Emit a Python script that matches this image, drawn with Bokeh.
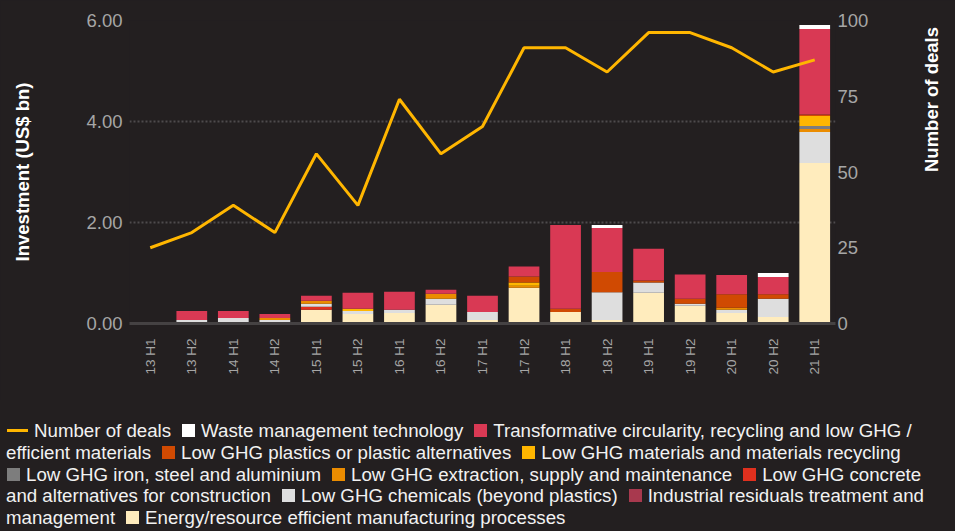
import math
from bokeh.plotting import figure
from bokeh.models import (ColumnDataSource, Range1d, LinearAxis, FixedTicker,
                          NumeralTickFormatter, Div)
from bokeh.layouts import column
from bokeh.embed import file_html
from bokeh.resources import INLINE

# ---------------- data ----------------
periods = ["13 H1", "13 H2", "14 H1", "14 H2", "15 H1", "15 H2", "16 H1", "16 H2",
           "17 H1", "17 H2", "18 H1", "18 H2", "19 H1", "19 H2", "20 H1", "20 H2", "21 H1"]

energy =      [0.00, 0.02, 0.03, 0.00, 0.27, 0.19, 0.21, 0.37, 0.07, 0.71, 0.23, 0.07, 0.61, 0.35, 0.21, 0.13, 3.18]
industrial =  [0.00, 0.00, 0.00, 0.03, 0.00, 0.00, 0.00, 0.00, 0.00, 0.00, 0.00, 0.00, 0.00, 0.00, 0.00, 0.00, 0.00]
concrete =    [0.00, 0.00, 0.00, 0.00, 0.06, 0.00, 0.00, 0.00, 0.00, 0.00, 0.00, 0.00, 0.00, 0.00, 0.00, 0.00, 0.00]
chemicals =   [0.00, 0.05, 0.08, 0.04, 0.06, 0.06, 0.06, 0.12, 0.16, 0.00, 0.00, 0.55, 0.20, 0.04, 0.06, 0.36, 0.61]
extraction =  [0.00, 0.00, 0.00, 0.04, 0.06, 0.00, 0.00, 0.10, 0.00, 0.04, 0.00, 0.00, 0.00, 0.00, 0.04, 0.00, 0.06]
iron =        [0.00, 0.00, 0.00, 0.00, 0.00, 0.00, 0.00, 0.00, 0.00, 0.00, 0.00, 0.00, 0.00, 0.00, 0.00, 0.00, 0.06]
materials =   [0.00, 0.00, 0.00, 0.00, 0.00, 0.04, 0.00, 0.00, 0.00, 0.06, 0.00, 0.00, 0.00, 0.00, 0.00, 0.00, 0.20]
plastics =    [0.00, 0.00, 0.00, 0.00, 0.00, 0.00, 0.00, 0.00, 0.00, 0.12, 0.06, 0.40, 0.04, 0.10, 0.27, 0.09, 0.03]
transform =   [0.03, 0.18, 0.14, 0.08, 0.10, 0.32, 0.36, 0.08, 0.32, 0.20, 1.66, 0.87, 0.63, 0.48, 0.38, 0.34, 1.69]
waste =       [0.00, 0.00, 0.00, 0.00, 0.00, 0.00, 0.00, 0.00, 0.00, 0.00, 0.00, 0.06, 0.00, 0.00, 0.00, 0.08, 0.08]

deals = [25, 30, 39, 30, 56, 39, 74, 56, 65, 91, 91, 83, 96, 96, 91, 83, 87]

left_ticks = [0, 2, 4, 6]
right_ticks = [0, 25, 50, 75, 100]

# stacking order (bottom -> top)
stack_keys = ["energy", "industrial", "concrete", "chemicals", "extraction",
              "iron", "materials", "plastics", "transform", "waste"]
stack_colors = ["#FFECBD", "#A8394E", "#E0301E", "#DEDEDE", "#EB8C00",
                "#7D7D7D", "#FFB600", "#D04A02", "#D93954", "#FFFFFF"]

BG = "#231F20"
FONT = "Liberation Sans"

source = ColumnDataSource(data=dict(
    period=periods, energy=energy, industrial=industrial, concrete=concrete,
    chemicals=chemicals, extraction=extraction, iron=iron, materials=materials,
    plastics=plastics, transform=transform, waste=waste, deals=deals))

W = 955
p = figure(x_range=periods, y_range=Range1d(0, 6), width=W, height=400,
           output_backend="svg", toolbar_location=None,
           min_border_left=129, min_border_right=117, min_border_top=20,
           min_border_bottom=77, background_fill_color=BG, border_fill_color=BG,
           outline_line_color=None)
p.extra_y_ranges = {"deals": Range1d(0, 100)}

p.vbar_stack(stack_keys, x="period", width=0.74, fill_color=stack_colors,
             line_color=None, source=source)
p.line(x="period", y="deals", source=source, y_range_name="deals",
       line_color="#FFB600", line_width=3)

# grid
p.xgrid.grid_line_color = None
p.ygrid.ticker = FixedTicker(ticks=left_ticks)
p.ygrid.grid_line_color = "#4E4B4C"
p.ygrid.grid_line_width = 2
p.ygrid.grid_line_dash = "2 2"

# x axis
xa = p.xaxis[0]
xa.axis_line_color = "#454243"
xa.axis_line_width = 3
xa.major_tick_line_color = None
xa.minor_tick_line_color = None
xa.major_tick_out = 0
xa.major_tick_in = 0
xa.major_label_orientation = math.pi / 2
xa.major_label_standoff = 15
xa.major_label_text_font = FONT
xa.major_label_text_font_size = "13.5px"
xa.major_label_text_color = "#A6A6A6"

# left axis
ya = p.yaxis[0]
ya.ticker = FixedTicker(ticks=left_ticks)
ya.formatter = NumeralTickFormatter(format="0.00")
ya.axis_line_color = None
ya.major_tick_line_color = None
ya.minor_tick_line_color = None
ya.major_tick_out = 0
ya.major_tick_in = 0
ya.major_label_standoff = 7
ya.major_label_text_font = FONT
ya.major_label_text_font_size = "18.5px"
ya.major_label_text_color = "#A6A6A6"
ya.axis_label = "Investment (US$ bn)"
ya.axis_label_text_font = FONT
ya.axis_label_text_font_style = "bold"
ya.axis_label_text_font_size = "18.5px"
ya.axis_label_text_color = "#FFFFFF"
ya.axis_label_standoff = 50

# right axis
ra = LinearAxis(y_range_name="deals", ticker=FixedTicker(ticks=right_ticks))
ra.axis_line_color = None
ra.major_tick_line_color = None
ra.minor_tick_line_color = None
ra.major_tick_out = 0
ra.major_tick_in = 0
ra.major_label_standoff = 2
ra.major_label_text_font = FONT
ra.major_label_text_font_size = "18.5px"
ra.major_label_text_color = "#A6A6A6"
ra.axis_label = "Number of deals"
ra.axis_label_text_font = FONT
ra.axis_label_text_font_style = "bold"
ra.axis_label_text_font_size = "18.5px"
ra.axis_label_text_color = "#FFFFFF"
ra.axis_label_standoff = 60
ra.axis_label_orientation = math.pi / 2
p.add_layout(ra, "right")

# ---------------- legend (HTML, wraps like the original) ----------------
def box(c, first=False):
    ml = 1 if first else 11
    return (f'<span style="display:inline-block;width:13px;height:13px;'
            f'background:{c};margin:0 6px 0 {ml}px;"></span>')

line_mark = ('<span style="display:inline-block;width:21px;height:3px;'
             'background:#FFB600;margin:0 6px 0 1px;vertical-align:5px;"></span>')

c = dict(zip(stack_keys, stack_colors))
lines = [
    line_mark + "Number of deals" + box(c["waste"]) + "Waste management technology"
    + box(c["transform"]) + "Transformative circularity, recycling and low GHG /",
    "efficient materials" + box(c["plastics"]) + "Low GHG plastics or plastic alternatives"
    + box(c["materials"]) + "Low GHG materials and materials recycling",
    box(c["iron"], True) + "Low GHG iron, steel and aluminium" + box(c["extraction"])
    + "Low GHG extraction, supply and maintenance" + box(c["concrete"]) + "Low GHG concrete",
    "and alternatives for construction" + box(c["chemicals"])
    + "Low GHG chemicals (beyond plastics)" + box(c["industrial"])
    + "Industrial residuals treatment and",
    "management" + box(c["energy"]) + "Energy/resource efficient manufacturing processes",
]
legend_html = (
    f'<div style="box-sizing:border-box;font-family:\'{FONT}\', Arial, sans-serif;'
    f'font-size:18.7px;line-height:21.8px;color:#F2F2F2;white-space:nowrap;'
    f'padding:15px 0 0 1px;background:{BG};width:940px;height:126px;">'
    + "<br>".join(lines) + "</div>"
)
legend = Div(text=legend_html, width=W - 8, height=131)

layout = column(p, legend, spacing=0)

html = file_html(layout, INLINE, title="Investment and number of deals")
html = html.replace("<head>", "<head><style>html,body{background:#231F20;}</style>", 1)
open("out.html", "w").write(html)
